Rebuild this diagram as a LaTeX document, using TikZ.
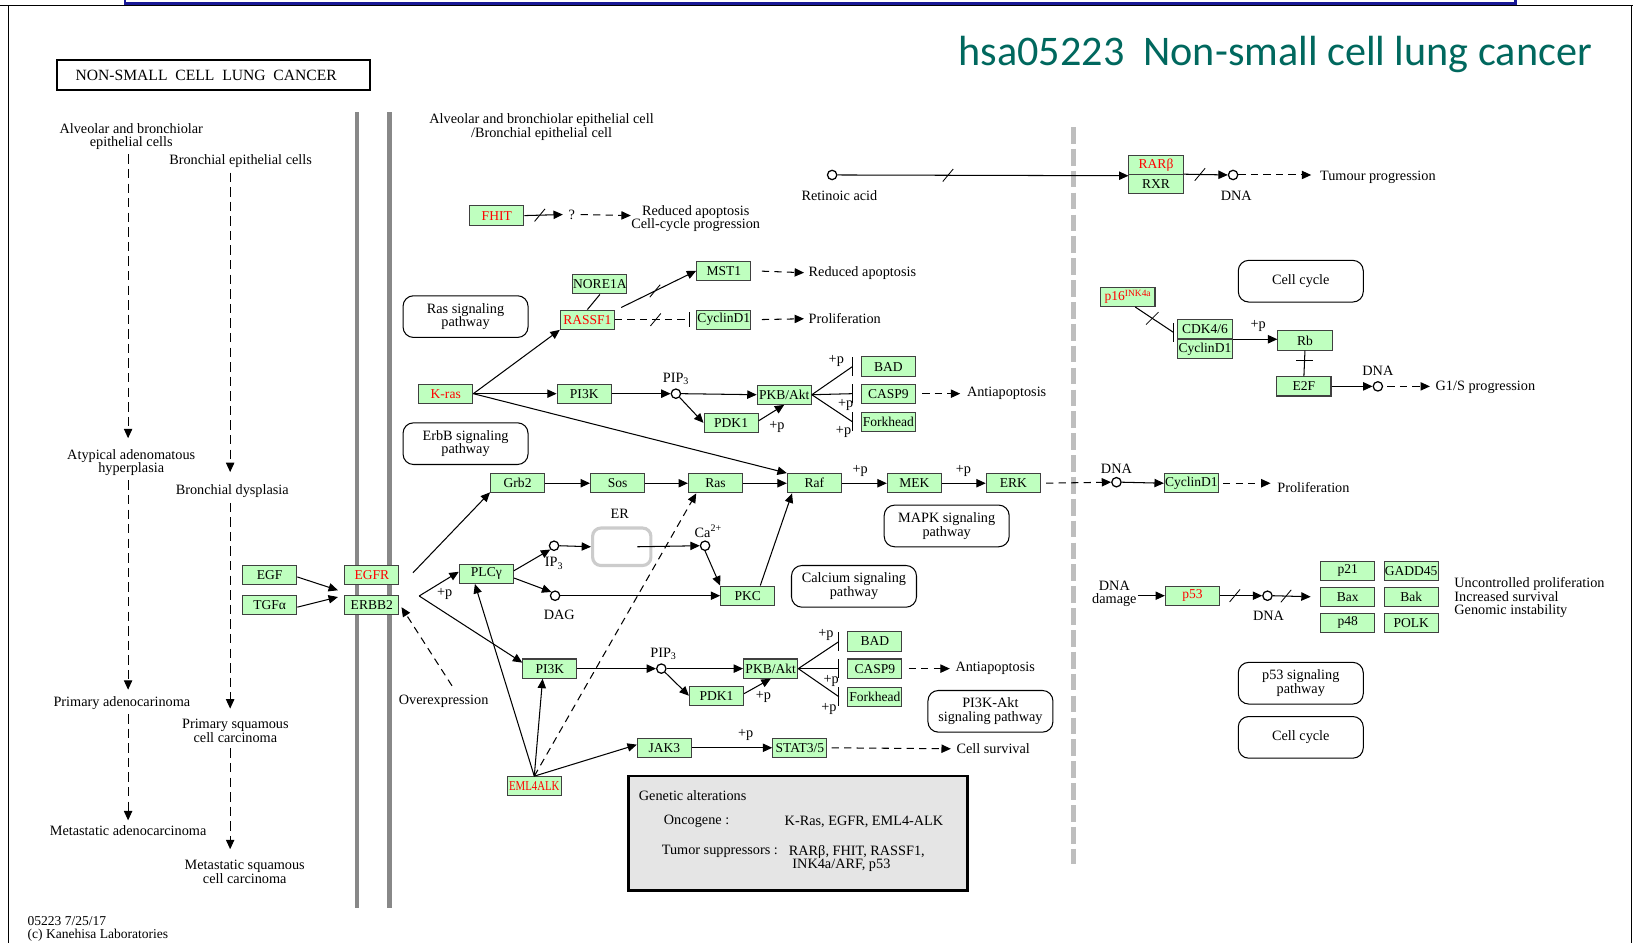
\documentclass[tikz,border=0pt]{standalone}
\usepackage{fontspec}
\setmainfont{Liberation Serif}
\newfontfamily\titlefont{Carlito}
\usetikzlibrary{arrows.meta,calc}
\definecolor{kgreen}{HTML}{BFFFBF}
\definecolor{kteal}{RGB}{0,104,94}
\definecolor{knavy}{RGB}{24,24,150}
\definecolor{kgray}{RGB}{136,136,136}
\definecolor{kdash}{RGB}{190,190,190}
\definecolor{kbox}{RGB}{229,229,229}
\newcommand{\kf}{\fontsize{13.7}{13}\selectfont}
\newcommand{\kg}{\fontsize{13}{13}\selectfont}
\newcommand{\kslash}[1]{\draw[line width=0.8pt] ($(#1)+(-5,6)$) -- ($(#1)+(5,-6)$);}
\newcommand{\kbar}[1]{\draw ($(#1)+(0,-9)$) -- ($(#1)+(0,9)$);}
\begin{document}
\begin{tikzpicture}[x=1pt,y=-1pt,line width=1pt,
  gene/.style={draw=black!75,fill=kgreen,minimum width=52pt,minimum height=18.5pt,inner sep=0pt,font=\kg},
  onc/.style={text=red},
  mapbox/.style={draw,rounded corners=10pt,minimum width=120pt,minimum height=40pt,align=center,font=\kf,inner sep=0pt},
  cpd/.style={circle,draw,fill=white,minimum size=9pt,inner sep=0pt,line width=1.2pt},
  lbl/.style={font=\kf,inner sep=0pt,align=center},
  lbll/.style={font=\kf,inner sep=0pt,align=left,anchor=west},
  act/.style={-{Triangle[length=9pt,width=8pt]}},
  dsh/.style={dash pattern=on 7pt off 5pt},
  ldsh/.style={dash pattern=on 9pt off 5pt},
]
\useasboundingbox (0,0) rectangle (1568,905);
\fill[white] (0,0) rectangle (1568,905);
% frame
\draw (0,5.5) -- (1568,5.5);
\draw (8,5.5) -- (8,905);
\draw (1566.5,5.5) -- (1566.5,905);
\draw[knavy,line width=2.5pt] (120,-5) -- (120,3.5) -- (1455,3.5) -- (1455,-5);
% title
\node[anchor=base west,text=kteal,font=\titlefont\fontsize{40.5}{40.5}\selectfont,inner sep=0pt] (title) at (920,63) {hsa05223\ \ Non-small cell lung cancer};
\node[draw,line width=2pt,minimum width=300pt,minimum height=28pt,font=\fontsize{15}{15}\selectfont,inner sep=0pt] (hdr) at (205,72) {\hspace*{-14pt}NON-SMALL\ \ CELL\ \ LUNG\ \ CANCER};
% left column
\coordinate (cA) at (123,0);
\coordinate (cB) at (221,0);
\node[lbl] (alv) at (126,131) {Alveolar and bronchiolar\\epithelial cells};
\node[lbl] (bron) at (231,155) {Bronchial epithelial cells};
\node[lbl] (aah) at (126,444) {Atypical adenomatous\\hyperplasia};
\node[lbl] (bd) at (223,472) {Bronchial dysplasia};
\node[lbl] (pa) at (117,675) {Primary adenocarinoma};
\node[lbl] (psq) at (226,702) {Primary squamous\\cell carcinoma};
\node[lbl] (ma) at (123,798) {Metastatic adenocarcinoma};
\node[lbl] (msq) at (235,837) {Metastatic squamous\\cell carcinoma};
\draw[act,ldsh,shorten <=4pt,shorten >=10pt] (alv.south -| cA) -- (aah.north -| cA);
\draw[act,ldsh,shorten <=4pt,shorten >=12pt] (bron.south -| cB) -- (bd.north -| cB);
\draw[act,ldsh,shorten <=4pt,shorten >=6pt] (aah.south -| cA) -- (pa.north -| cA);
\draw[act,ldsh,shorten <=4pt,shorten >=10pt] (bd.south -| cB) -- (psq.north -| cB);
\draw[act,ldsh,shorten <=4pt,shorten >=5pt] (pa.south -| cA) -- (ma.north -| cA);
\draw[act,ldsh,shorten <=5pt,shorten >=10pt] (psq.south -| cB) -- (msq.north -| cB);
\node[lbll,font=\fontsize{13}{12.5}\selectfont] (foot) at (26,892) {05223 7/25/17\\(c) Kanehisa Laboratories};
% membranes
\draw[kgray,line width=4pt] (343,108) -- (343,872);
\draw[kgray,line width=4pt] (374,108) -- (374,872);
\draw[kdash,line width=5pt,dash pattern=on 16pt off 5pt] (1031,122) -- (1031,830);
\node[lbl] (hdr2) at (520,122) {Alveolar and bronchiolar epithelial cell\\/Bronchial epithelial cell};
% map boxes
\node[mapbox] (rasmap) at (447,304) {Ras signaling\\pathway};
\node[mapbox] (erbbmap) at (447,426) {ErbB signaling\\pathway};
\node[mapbox] (mapkmap) at (909,505) {MAPK signaling\\pathway};
\node[mapbox] (camap) at (820,563) {Calcium signaling\\pathway};
\node[mapbox] (pimap) at (951,683) {PI3K-Akt\\signaling pathway};
\node[mapbox] (ccmap1) at (1249,270) {Cell cycle};
\node[mapbox] (p53map) at (1249,656) {p53 signaling\\pathway};
\node[mapbox] (ccmap2) at (1249,708) {Cell cycle};
% ER
\node[draw=black!20,line width=3pt,rounded corners=8pt,minimum width=56pt,minimum height=36pt] (er) at (597,525) {};
\node[lbl] (erl) at (595,493) {ER};
% genes
\node[gene,onc] (fhit) at (477,207) {FHIT};
\node[gene] (nore) at (576,273) {NORE1A};
\node[gene] (mst) at (695,260) {MST1};
\node[gene,onc] (rassf) at (564,307) {RASSF1};
\node[gene] (cyca) at (695,307) {CyclinD1};
\node[gene,onc] (kras) at (428,378) {K-ras};
\node[gene] (pika) at (561,378) {PI3K};
\node[gene] (akta) at (753,379) {PKB/Akt};
\node[gene] (pdka) at (702,406) {PDK1};
\node[gene] (bada) at (853,352) {BAD};
\node[gene] (caspa) at (853,378) {CASP9};
\node[gene] (forka) at (853,405) {Forkhead};
\node[gene] (grb) at (497,464) {Grb2};
\node[gene] (sos) at (593,464) {Sos};
\node[gene] (ras) at (687,464) {Ras};
\node[gene] (raf) at (782,464) {Raf};
\node[gene] (mek) at (878,464) {MEK};
\node[gene] (erk) at (973,464) {ERK};
\node[gene] (cycc) at (1144,464) {CyclinD1};
\node[gene] (egf) at (259,552) {EGF};
\node[gene] (tgf) at (259,581) {TGFα};
\node[gene,onc] (egfr) at (357,552) {EGFR};
\node[gene] (erbb) at (357,581) {ERBB2};
\node[gene] (plc) at (467,551) {PLCγ};
\node[gene] (pkc) at (718,572) {PKC};
\node[gene] (pikb) at (528,642) {PI3K};
\node[gene] (aktb) at (740,642) {PKB/Akt};
\node[gene] (pdkb) at (688,668) {PDK1};
\node[gene] (badb) at (840,616) {BAD};
\node[gene] (caspb) at (840,642) {CASP9};
\node[gene] (forkb) at (840,669) {Forkhead};
\node[gene] (jak) at (638,718) {JAK3};
\node[gene] (stat) at (768,718) {STAT3/5};
\node[gene,onc] (eml) at (513,755) {\scalebox{0.8}[1]{EML4ALK}};
\node[gene,onc] (rar) at (1110,159) {RARβ};
\node[gene] (rxr) at (1110,177) {RXR};
\node[gene,onc] (p16) at (1083,285) {p16\textsuperscript{INK4a}};
\node[gene] (cdk) at (1157,316) {CDK4/6};
\node[gene] (cycb) at (1157,335) {CyclinD1};
\node[gene] (rb) at (1253,327) {Rb};
\node[gene] (e2f) at (1252,371) {E2F};
\node[gene,onc] (p53) at (1145,572) {p53};
\node[gene] (p21) at (1294,548) {p21};
\node[gene] (gadd) at (1355,548) {GADD45};
\node[gene] (bax) at (1294,573) {Bax};
\node[gene] (bak) at (1355,573) {Bak};
\node[gene] (p48) at (1294,598) {p48};
\node[gene] (polk) at (1355,598) {POLK};
% compounds
\node[cpd] (ra) at (799,168) {};
\node[cpd] (dna1) at (1184,168) {};
\node[cpd] (pip3a) at (649,378) {};
\node[cpd] (ip3) at (532,524) {};
\node[cpd] (dag) at (533,572) {};
\node[cpd] (ca) at (677,524) {};
\node[cpd] (pip3b) at (635,642) {};
\node[cpd] (dna2) at (1072,463) {};
\node[cpd] (dna3) at (1323,371) {};
\node[cpd] (dna4) at (1217,572) {};
\node[lbl] (ral) at (806,188) {Retinoic acid};
\node[lbl] (dna1l) at (1187,188) {DNA};
\node[lbl] (pip3al) at (649,364) {PIP\textsubscript{3}};
\node[lbl] (ip3l) at (532,541) {IP\textsubscript{3}};
\node[lbl] (dagl) at (537,590) {DAG};
\node[lbl] (cal) at (680,510) {Ca\textsuperscript{2+}};
\node[lbl] (pip3bl) at (637,628) {PIP\textsubscript{3}};
\node[lbl] (dna2l) at (1072,450) {DNA};
\node[lbl] (dna3l) at (1323,356) {DNA};
\node[lbl] (dna4l) at (1218,591) {DNA};
% text labels
\node[lbl] (q) at (549,206) {?};
\node[lbl] (redap) at (668,210) {Reduced apoptosis\\Cell-cycle progression};
\node[lbll] (tumour) at (1267,170) {Tumour progression};
\node[lbll] (redap2) at (776,262) {Reduced apoptosis};
\node[lbll] (prolif1) at (776,306) {Proliferation};
\node[lbll] (anti1) at (928,378) {Antiapoptosis};
\node[lbll] (anti2) at (917,642) {Antiapoptosis};
\node[lbll] (prolif2) at (1226,468) {Proliferation};
\node[lbll] (g1s) at (1378,372) {G1/S progression};
\node[lbll] (surv) at (918,719) {Cell survival};
\node[lbl] (overexp) at (426,673) {Overexpression};
\node[lbl] (dnadmg) at (1070,570) {DNA\\damage};
\node[lbll] (outc) at (1396,574) {Uncontrolled proliferation\\Increased survival\\Genomic instability};
% +p labels
\node[lbl] (p1) at (746,410) {+p};
\node[lbl] (p2) at (803,347) {+p};
\node[lbl] (p3) at (812,389) {+p};
\node[lbl] (p4) at (810,415) {+p};
\node[lbl] (p5) at (826,452) {+p};
\node[lbl] (p6) at (925,452) {+p};
\node[lbl] (p7) at (427,570) {+p};
\node[lbl] (p8) at (733,669) {+p};
\node[lbl] (p9) at (793,610) {+p};
\node[lbl] (p10) at (798,654) {+p};
\node[lbl] (p11) at (796,681) {+p};
\node[lbl] (p12) at (716,706) {+p};
\node[lbl] (p13) at (1208,313) {+p};
% genetic alterations box
\node[draw,fill=kbox,line width=2.5pt,minimum width=326pt,minimum height=110pt,anchor=north west,inner sep=0pt] (gbox) at (602,744) {};
\node[lbll] (ga) at (613,764) {Genetic alterations};
\node[lbll] (onco) at (637,789) {Oncogene :};
\node[lbll] (oncol) at (753,789) {K-Ras, EGFR, EML4-ALK};
\node[lbll] (tsup) at (635,817) {Tumor suppressors :};
\node[lbll,anchor=north west] (tsupl) at (757,811) {RARβ, FHIT, RASSF1,\\\ INK4a/ARF, p53};
% ===== edges =====
\draw[act] (fhit.east) -- coordinate[pos=.4](s1) ($(q.west)+(-5,0)$);
\kslash{s1}
\draw[act,dsh] ($(q.east)+(5,0)$) -- (redap.west |- fhit);
\draw[act] (ra.east) -- coordinate[pos=.38](s2) (rar.south west);
\kslash{s2}
\draw[act] (rxr.north east) -- coordinate[pos=.37](s3) (dna1.west);
\kslash{s3}
\draw[act,dsh,shorten >=8pt] (dna1.east) -- (tumour.west |- dna1);
\draw[act] (kras.east) -- (rassf.south west);
\draw (nore.south) -- (rassf.north);
\draw[act] ($(rassf.north east)+(6,-2)$) -- coordinate[pos=.45](s4) (mst.west);
\kslash{s4}
\draw[dsh,-{Bar[width=14pt]},shorten >=6pt] (rassf.east) -- coordinate[pos=.5](s5) (cyca.west);
\kslash{s5}
\draw[act,dsh,shorten <=10pt,shorten >=4pt] (mst.east) -- (redap2.west);
\draw[act,dsh,shorten <=10pt,shorten >=4pt] (cyca.east) -- (prolif1.west);
\draw[act] (kras.east) -- (pika.west);
\draw[act] (pika.east) -- (pip3a.west);
\draw[act] (pip3a.east) -- (akta.west);
\draw[act] (pip3a.south east) -- (pdka.west);
\draw[act] ($(pdka.east)+(0,-2)$) -- (akta.south);
\coordinate (ba1) at ($(bada.west)+(-8,0)$);
\coordinate (ba2) at ($(caspa.west)+(-8,0)$);
\coordinate (ba3) at ($(forka.west)+(-8,0)$);
\draw (akta.east) -- (ba1); \kbar{ba1}
\draw (akta.east) -- (ba2); \kbar{ba2}
\draw (akta.east) -- (ba3); \kbar{ba3}
\draw[act,dsh,shorten <=6pt,shorten >=6pt] (caspa.east) -- (anti1.west);
\draw[act] (kras.east) -- (raf.north west);
\draw[act] (grb.east) -- (sos.west);
\draw[act] (sos.east) -- (ras.west);
\draw[act] (ras.east) -- (raf.west);
\draw[act] (raf.east) -- (mek.west);
\draw[act] (mek.east) -- (erk.west);
\draw[act,dsh,shorten <=5pt] (erk.east) -- (dna2.west);
\draw[act] (dna2.east) -- (cycc.west);
\draw[act,dsh,shorten <=4pt,shorten >=6pt] (cycc.east) -- (prolif2.west |- cycc);
% receptor inputs
\coordinate (rin1) at ($(egfr.south west)+(-6,5)$);
\coordinate (rin2) at ($(erbb.north west)+(-6,2)$);
\draw[act] ($(egf.east)+(0,2)$) -- (rin1);
\draw[act] ($(tgf.east)+(0,2)$) -- (rin2);
\coordinate (rout) at ($(egfr.east)+(13,-2)$);
\coordinate (fork) at ($(erbb.north east)+(19,1)$);
\draw[act] (rout) -- ($(grb.south west)+(0,-1)$);
\draw[act] (fork) -- ($(plc.west)+(0,-2)$);
\draw[act] (fork) -- ($(pikb.north west)+(0,4)$);
\draw[act,dsh] (overexp.north) ++(8,-8) -- ($(erbb.east)+(2,2)$);
% PLC branch
\draw[act] ($(plc.east)+(0,-3)$) -- (ip3.south west);
\draw[act] ($(plc.east)+(0,4)$) -- (dag.north west);
\draw[act] (ip3.east) -- (er.west);
\draw[act] ($(er.center)+(15,0)$) -- (ca.west);
\draw[act] (ca.south) -- (pkc.north west);
\draw[act] (dag.east) -- (pkc.west);
\draw[act] ($(pkc.north)+(12,0)$) -- ($(raf.south west)+(5,0)$);
% EML4ALK
\draw[act] (eml.north) -- ($(plc.south)+(-11,0)$);
\draw[act] (eml.north) -- ($(pikb.south)+(-7,0)$);
\draw[act,dsh] (eml.north) -- ($(ras.south west)+(8,0)$);
\draw[act] (eml.north) -- ($(jak.west)+(0,-3)$);
% lower PI3K branch
\draw[act] (pikb.east) -- (pip3b.west);
\draw[act] (pip3b.east) -- (aktb.west);
\draw[act] (pip3b.south east) -- (pdkb.west);
\draw[act] ($(pdkb.east)+(0,-2)$) -- (aktb.south);
\coordinate (bb1) at ($(badb.west)+(-8,0)$);
\coordinate (bb2) at ($(caspb.west)+(-8,0)$);
\coordinate (bb3) at ($(forkb.west)+(-8,0)$);
\draw (aktb.east) -- (bb1); \kbar{bb1}
\draw (aktb.east) -- (bb2); \kbar{bb2}
\draw (aktb.east) -- (bb3); \kbar{bb3}
\draw[act,dsh,shorten <=6pt,shorten >=5pt] (caspb.east) -- (anti2.west);
\draw[act] (jak.east) -- (stat.west);
\draw[act,dsh,shorten <=4pt,shorten >=5pt] (stat.east) -- (surv.west);
% cell cycle
\coordinate (bc) at ($(cdk.west)+(-4,3)$);
\draw ($(p16.south)+(7,0)$) -- coordinate[pos=.45](s6) (bc);
\draw[line width=0.8pt] ($(s6)+(-6,6)$) -- ($(s6)+(6,-6)$);
\kbar{bc}
\draw[act] (cdk.south east) -- (rb.west |- cdk.south);
\draw (rb.south) -- coordinate[pos=.4](rbx) (e2f.north);
\draw ($(rbx)+(-8,0)$) -- ($(rbx)+(8,0)$);
\draw[act] (e2f.east) -- (dna3.west);
\draw[act,dsh,shorten <=4pt,shorten >=5pt] (dna3.east) -- (g1s.west |- dna3);
% p53
\draw[act] ($(dnadmg.east |- p53)+(1,0)$) -- (p53.west);
\draw[act] (p53.east) -- coordinate[pos=.35](s7) (dna4.west);
\kslash{s7}
\draw[act] (dna4.east) -- coordinate[pos=.35](s8) ($(bax.west)+(-9,0)$);
\kslash{s8}
\end{tikzpicture}
\end{document}
